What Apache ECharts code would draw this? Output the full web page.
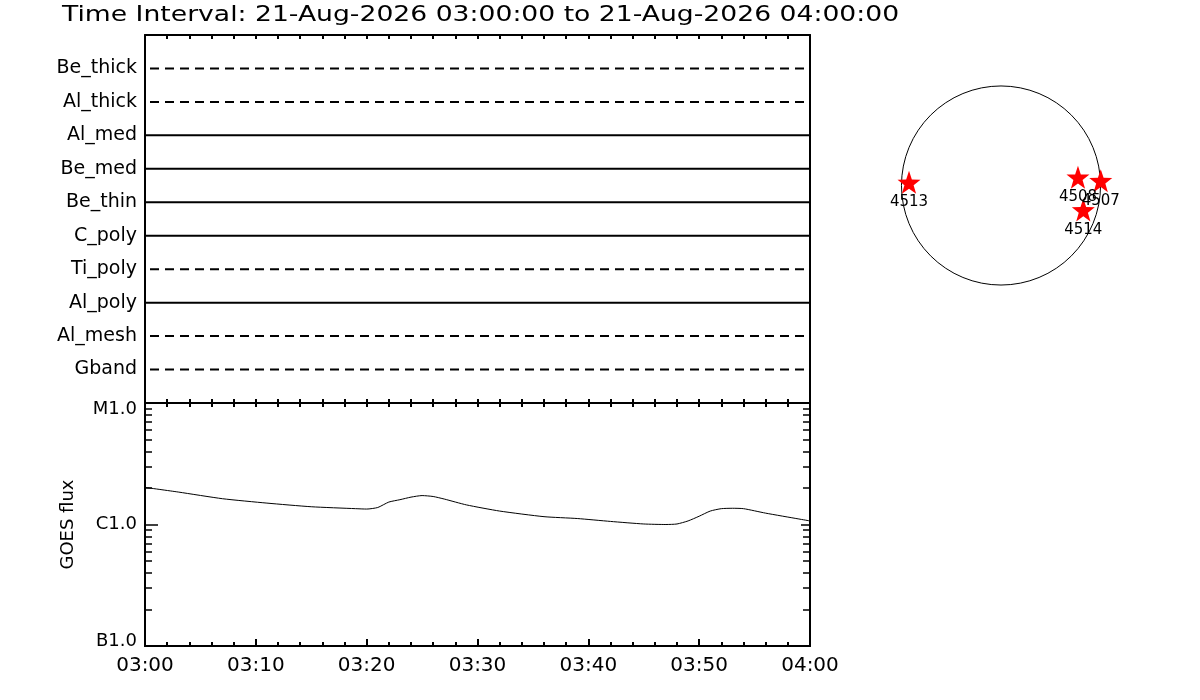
<!DOCTYPE html>
<html>
<head>
<meta charset="utf-8">
<script src="https://cdn.jsdelivr.net/npm/echarts@6/dist/echarts.min.js"></script>
<style>
  html, body { margin: 0; padding: 0; background: #fff; }
  #chart { width: 1200px; height: 700px; }
</style>
</head>
<body>
<div id="chart"></div>
<script>
// ---------------- data ----------------
const titleDate = '21-Aug-2026';
const startTime = '03:00:00';
const endTime = '04:00:00';

const channels = ['Be_thick', 'Al_thick', 'Al_med', 'Be_med', 'Be_thin', 'C_poly', 'Ti_poly', 'Al_poly', 'Al_mesh', 'Gband'];

const xTickLabels = ['03:00', '03:10', '03:20', '03:30', '03:40', '03:50', '04:00'];
const yTickLabels = ['B1.0', 'C1.0', 'M1.0'];

const goesTimes = ['03:00', '03:03', '03:07', '03:11', '03:15', '03:19', '03:20', '03:21', '03:22', '03:23', '03:24', '03:25', '03:26', '03:27', '03:29', '03:32', '03:36', '03:39', '03:42', '03:45', '03:47', '03:48', '03:49', '03:50', '03:51', '03:52', '03:53', '03:54', '03:56', '03:59', '04:00'];
const goesFlux = [2.02e-6, 1.85e-6, 1.63e-6, 1.50e-6, 1.40e-6, 1.35e-6, 1.34e-6, 1.38e-6, 1.53e-6, 1.60e-6, 1.68e-6, 1.73e-6, 1.70e-6, 1.62e-6, 1.45e-6, 1.29e-6, 1.16e-6, 1.12e-6, 1.06e-6, 1.01e-6, 1.00e-6, 1.01e-6, 1.07e-6, 1.17e-6, 1.29e-6, 1.35e-6, 1.36e-6, 1.35e-6, 1.24e-6, 1.11e-6, 1.07e-6];

const regionNames = ['4513', '4508', '4507', '4514'];
const regionX = [-876, 733, 950, 784];   // arcsec
const regionY = [30, 78, 46, -233];      // arcsec
const solarRadius = 948;                 // arcsec

// ---------------- styles ----------------
const dashedChannels = ['Be_thick', 'Al_thick', 'Ti_poly', 'Al_mesh', 'Gband'];
const FONT = 'DejaVu Sans';
const BLACK = '#000000';

function toMinutes(t) {
  const p = t.split(':');
  const s = startTime.split(':');
  return (parseInt(p[0], 10) * 60 + parseInt(p[1], 10)) - (parseInt(s[0], 10) * 60 + parseInt(s[1], 10));
}

const goesData = goesTimes.map((t, i) => [toMinutes(t), goesFlux[i]]);

const minorLog = [];
for (let n = -7; n < -5; n++) {
  for (let k = 2; k <= 9; k++) minorLog.push(k * Math.pow(10, n));
}

const channelSeries = channels.map((name, i) => ({
  type: 'line',
  name: name,
  xAxisIndex: 0,
  yAxisIndex: 0,
  symbol: 'none',
  silent: true,
  data: [[0, channels.length - i], [60, channels.length - i]],
  lineStyle: {
    color: BLACK,
    width: 2,
    type: dashedChannels.indexOf(name) >= 0 ? [9, 6] : 'solid',
    dashOffset: -5
  }
}));

const axisLineStyle = { show: true, onZero: false, lineStyle: { color: BLACK, width: 2 } };

function logAxis(position, tickLen, custom, showLabel) {
  const ax = {
    type: 'log',
    logBase: 10,
    gridIndex: 1,
    position: position,
    min: 1e-7,
    max: 1e-5,
    axisLine: axisLineStyle,
    splitLine: { show: false },
    axisTick: { show: true, inside: true, length: tickLen, lineStyle: { color: BLACK, width: 1.5 } },
    axisLabel: { show: false }
  };
  if (custom) ax.axisTick.customValues = custom;
  if (showLabel) {
    ax.axisLabel = {
      show: true,
      margin: 8,
      color: BLACK,
      fontFamily: FONT,
      fontSize: 18,
      formatter: function (v) {
        const idx = Math.round(Math.log10(v)) + 7;
        const txt = yTickLabels[idx] || '';
        if (idx === yTickLabels.length - 1) return '{hi|' + txt + '}';
        if (idx === 0) return '{lo|' + txt + '}';
        return txt;
      },
      rich: {
        hi: { fontFamily: FONT, fontSize: 18, color: BLACK, padding: [12, 0, 0, 0] },
        lo: { fontFamily: FONT, fontSize: 18, color: BLACK, padding: [0, 0, 10, 0] }
      }
    };
    ax.name = 'GOES flux';
    ax.nameLocation = 'middle';
    ax.nameGap = 68;
    ax.nameRotate = 90;
    ax.nameTextStyle = { color: BLACK, fontFamily: FONT, fontSize: 18 };
  }
  return ax;
}

const option = {
  animation: false,
  backgroundColor: '#ffffff',
  graphic: [{
    type: 'text',
    x: 62,
    y: 4,
    scaleX: 1.21,
    style: {
      text: 'Time Interval: ' + titleDate + ' ' + startTime + ' to ' + titleDate + ' ' + endTime,
      fontFamily: FONT,
      fontSize: 22,
      fill: BLACK,
      verticalAlign: 'top'
    }
  }],
  grid: [
    { left: 145, top: 35, width: 665, height: 368 },
    { left: 145, top: 403, width: 665, height: 243 },
    { left: 875, top: 59.5, width: 252, height: 252 }
  ],
  xAxis: [
    {
      type: 'value', gridIndex: 0, position: 'bottom', min: 0, max: 60, interval: 2,
      axisLine: axisLineStyle,
      axisTick: { show: true, inside: true, length: 4, lineStyle: { color: BLACK, width: 2 } },
      axisLabel: { show: false }, splitLine: { show: false }
    },
    {
      type: 'value', gridIndex: 0, position: 'top', min: 0, max: 60, interval: 2,
      axisLine: axisLineStyle,
      axisTick: { show: true, inside: true, length: 4, lineStyle: { color: BLACK, width: 2 } },
      axisLabel: { show: false }, splitLine: { show: false }
    },
    {
      type: 'value', gridIndex: 1, position: 'bottom', min: 0, max: 60, interval: 10,
      axisLine: axisLineStyle,
      axisTick: { show: true, inside: true, length: 7, lineStyle: { color: BLACK, width: 2 } },
      minorTick: { show: true, splitNumber: 5, length: 4, lineStyle: { color: BLACK, width: 2 } },
      axisLabel: {
        show: true, margin: 10, color: BLACK, fontFamily: FONT, fontSize: 20,
        formatter: function (v) { return xTickLabels[Math.round(v / 10)] || ''; }
      },
      splitLine: { show: false }
    },
    {
      type: 'value', gridIndex: 1, position: 'top', min: 0, max: 60, interval: 2,
      axisLine: axisLineStyle,
      axisTick: { show: true, inside: true, length: 4, lineStyle: { color: BLACK, width: 2 } },
      axisLabel: { show: false }, splitLine: { show: false }
    },
    {
      type: 'value', gridIndex: 2, min: -1200, max: 1200, show: false
    }
  ],
  yAxis: [
    {
      type: 'value', gridIndex: 0, position: 'left', min: 0, max: channels.length + 1, interval: 1,
      axisLine: axisLineStyle,
      axisTick: { show: false },
      splitLine: { show: false },
      axisLabel: {
        show: true, margin: 8, color: BLACK, fontFamily: FONT, fontSize: 19,
        formatter: function (v) {
          const i = channels.length - Math.round(v);
          return (i >= 0 && i < channels.length) ? channels[i] : '';
        }
      }
    },
    {
      type: 'value', gridIndex: 0, position: 'right', min: 0, max: channels.length + 1,
      axisLine: axisLineStyle,
      axisTick: { show: false }, axisLabel: { show: false }, splitLine: { show: false }
    },
    logAxis('left', 13, null, true),
    logAxis('left', 7, minorLog, false),
    logAxis('right', 9, null, false),
    logAxis('right', 7, minorLog, false),
    {
      type: 'value', gridIndex: 2, min: -1200, max: 1200, show: false
    }
  ],
  series: channelSeries.concat([
    {
      type: 'line',
      name: 'GOES',
      xAxisIndex: 2,
      yAxisIndex: 2,
      symbol: 'none',
      smooth: 0.2,
      data: goesData,
      lineStyle: { color: BLACK, width: 1 }
    },
    {
      type: 'custom',
      name: 'disk',
      xAxisIndex: 4,
      yAxisIndex: 6,
      silent: true,
      data: [[0, 0, solarRadius]],
      renderItem: function (params, api) {
        const c = api.coord([api.value(0), api.value(1)]);
        const r = api.size([api.value(2), 0])[0];
        return {
          type: 'circle',
          shape: { cx: c[0], cy: c[1], r: r },
          style: { fill: 'none', stroke: BLACK, lineWidth: 1 }
        };
      }
    },
    {
      type: 'scatter',
      name: 'regions',
      xAxisIndex: 4,
      yAxisIndex: 6,
      symbol: 'path://M0,-10 L2.35,-3.24 L9.51,-3.09 L3.8,1.24 L5.88,8.09 L0,4 L-5.88,8.09 L-3.8,1.24 L-9.51,-3.09 L-2.35,-3.24 Z',
      symbolSize: [23, 23],
      itemStyle: { color: '#ff0000', opacity: 1 },
      label: {
        show: true,
        position: 'bottom',
        distance: 1,
        color: BLACK,
        opacity: 1,
        fontFamily: FONT,
        fontSize: 15,
        formatter: function (p) { return p.name; }
      },
      emphasis: { disabled: true },
      data: regionNames.map((n, i) => ({ name: n, value: [regionX[i], regionY[i]] }))
    }
  ])
};

const chart = echarts.init(document.getElementById('chart'), null, { renderer: 'canvas' });
chart.setOption(option);
</script>
</body>
</html>
